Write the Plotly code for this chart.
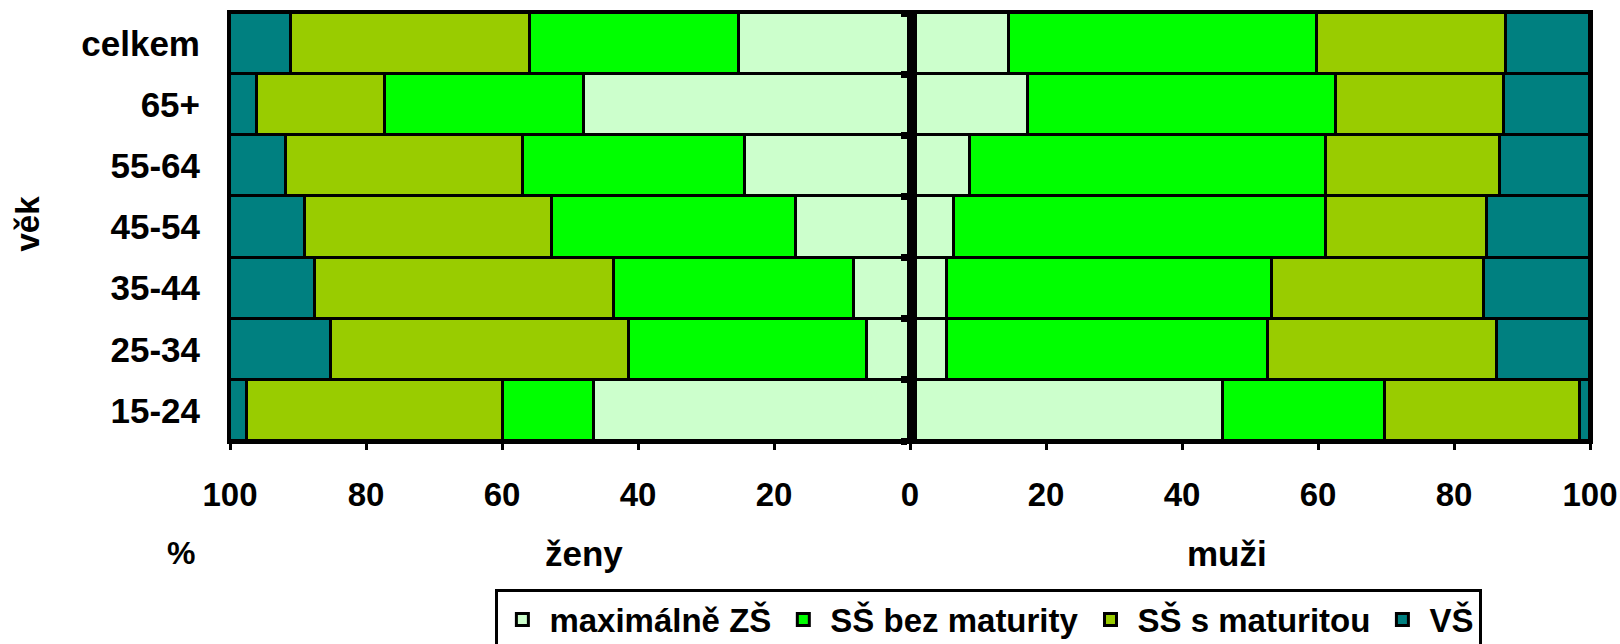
import plotly.graph_objects as go

age_groups = ["15-24", "25-34", "35-44", "45-54", "55-64", "65+", "celkem"]
levels = ["maximálně ZŠ", "SŠ bez maturity", "SŠ s maturitou", "VŠ"]
colors = ["#CCFFCC", "#00FF00", "#99CC00", "#008080"]

# women (ženy), percent, order bottom->top as age_groups
women_zs = [46.5, 6.3, 8.2, 16.7, 24.3, 47.9, 25.2]
women_bez = [13.3, 35.0, 35.4, 35.9, 32.6, 29.3, 30.7]
women_s = [37.7, 43.9, 43.9, 36.4, 34.9, 18.8, 35.1]
women_vs = [2.5, 14.8, 12.5, 11.0, 8.2, 4.0, 9.0]

# men (muži), percent
men_zs = [46.1, 5.5, 5.5, 6.4, 8.8, 17.3, 14.5]
men_bez = [23.7, 47.2, 47.8, 54.8, 52.4, 45.4, 45.3]
men_s = [28.8, 33.6, 31.1, 23.7, 25.6, 24.6, 27.9]
men_vs = [1.4, 13.7, 15.6, 15.1, 13.2, 12.7, 12.3]

tick_vals = [-100, -80, -60, -40, -20, 0, 20, 40, 60, 80, 100]
tick_text = ["100", "80", "60", "40", "20", "0", "20", "40", "60", "80", "100"]

FONT = "Liberation Sans, Arial, sans-serif"

women = [women_zs, women_bez, women_s, women_vs]
men = [men_zs, men_bez, men_s, men_vs]

fig = go.Figure()
for i, name in enumerate(levels):
    fig.add_trace(go.Bar(
        y=age_groups, x=[-v for v in women[i]], orientation="h", name=name,
        marker=dict(color=colors[i], line=dict(color="black", width=3)),
        legendgroup=name, showlegend=True,
    ))
for i, name in enumerate(levels):
    fig.add_trace(go.Bar(
        y=age_groups, x=men[i], orientation="h", name=name,
        marker=dict(color=colors[i], line=dict(color="black", width=3)),
        legendgroup=name, showlegend=False,
    ))

# dummy trace to hold the central axis
fig.add_trace(go.Scatter(x=[None], y=[None], yaxis="y2", showlegend=False, hoverinfo="skip"))

fig.update_layout(
    width=1620, height=644,
    margin=dict(l=230, r=30, t=13, b=203, autoexpand=False),
    paper_bgcolor="white", plot_bgcolor="white",
    barmode="relative", bargap=0,
    font=dict(family=FONT, size=32, color="black", weight="bold"),
    xaxis=dict(
        range=[-100, 100], tickvals=tick_vals, ticktext=tick_text,
        showgrid=False, zeroline=False, automargin=False,
        ticks="outside", ticklen=6, tickwidth=3, tickcolor="black",
        ticklabelstandoff=16,
        showline=True, linewidth=3, linecolor="black", mirror=True,
        tickfont=dict(size=33, family=FONT, weight="bold"),
    ),
    yaxis=dict(
        categoryorder="array", categoryarray=age_groups,
        range=[-0.5, 6.5], showgrid=False, zeroline=False, automargin=False,
        ticks="", ticklabelstandoff=20,
        showline=True, linewidth=3, linecolor="black", mirror=True,
        tickfont=dict(size=35, family=FONT, weight="bold"),
    ),
    yaxis2=dict(
        overlaying="y", anchor="free", position=0.5015, side="left",
        range=[-0.5, 6.5], showgrid=False, zeroline=False, automargin=False,
        tickvals=[-0.5, 0.5, 1.5, 2.5, 3.5, 4.5, 5.5, 6.5],
        showticklabels=False, ticks="outside", ticklen=6, tickwidth=7,
        tickcolor="black", showline=True, linewidth=10, linecolor="black",
    ),
    legend=dict(
        orientation="h", x=0.558, y=-0.345, xanchor="center", yanchor="top",
        bordercolor="black", borderwidth=3, bgcolor="white",
        font=dict(size=33, family=FONT, weight="bold"),
        itemwidth=44, tracegroupgap=0,
    ),
    showlegend=True,
    annotations=[
        dict(text="%", x=-0.036, y=-0.262, xref="paper", yref="paper",
             showarrow=False, xanchor="center", yanchor="middle",
             font=dict(size=32, family=FONT, weight="bold")),
        dict(text="ženy", x=0.260, y=-0.264, xref="paper", yref="paper",
             showarrow=False, xanchor="center", yanchor="middle",
             font=dict(size=35, family=FONT, weight="bold")),
        dict(text="muži", x=0.733, y=-0.264, xref="paper", yref="paper",
             showarrow=False, xanchor="center", yanchor="middle",
             font=dict(size=35, family=FONT, weight="bold")),
        dict(text="věk", x=-0.149, y=0.509, xref="paper", yref="paper",
             showarrow=False, xanchor="center", yanchor="middle", textangle=-90,
             font=dict(size=33, family=FONT, weight="bold")),
    ],
)

fig.write_html(
    "out.html",
    config={"displayModeBar": False},
    post_script="document.body.style.margin='0';document.body.style.overflow='hidden';",
)
